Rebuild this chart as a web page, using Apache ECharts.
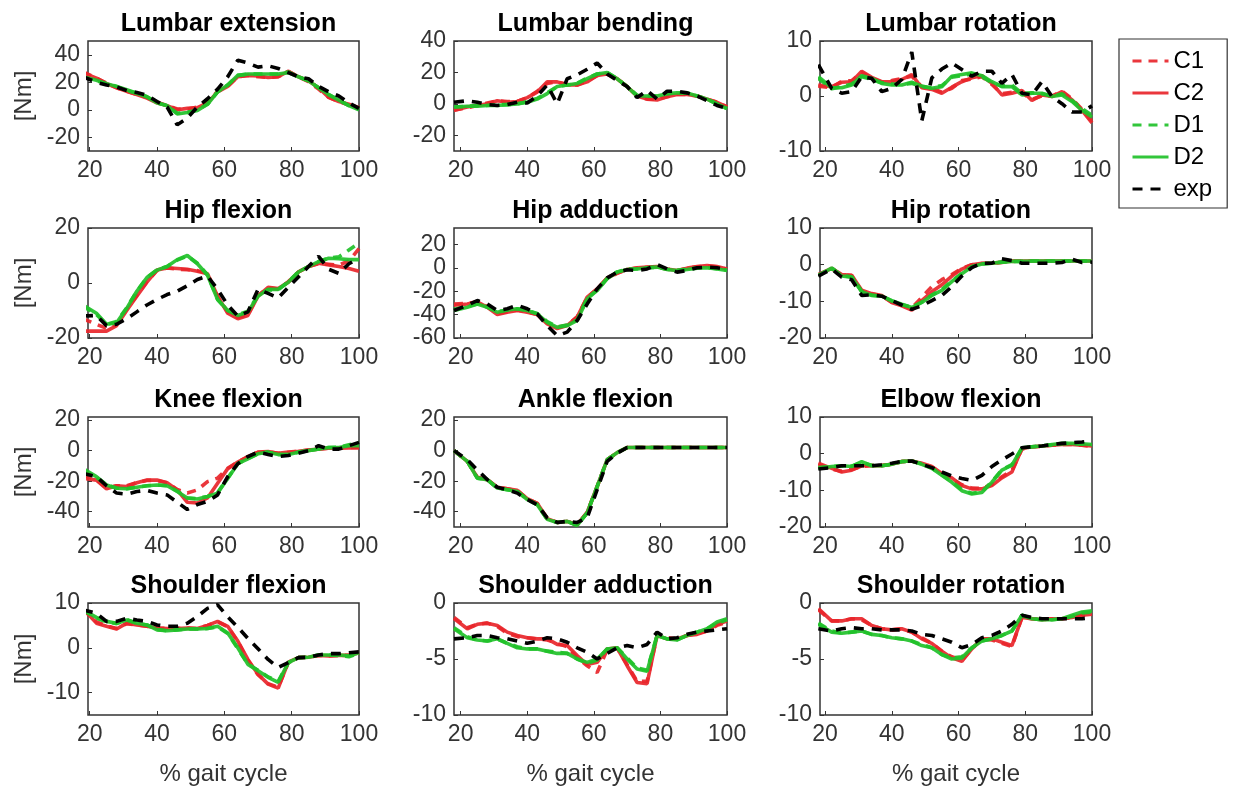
<!DOCTYPE html>
<html>
<head>
<meta charset="utf-8">
<script src="https://cdn.jsdelivr.net/npm/echarts@6/dist/echarts.min.js"></script>
<style>
  html, body { margin: 0; padding: 0; background: #fff; }
  #chart { width: 1233px; height: 787px; }
</style>
</head>
<body>
<div id="chart"></div>
<script>
// % gait cycle sample points
const gait = [18, 22, 25, 28, 31, 34, 37, 40, 43, 46, 49, 52, 55, 58, 61, 64, 67, 70, 73, 76, 79, 82, 85, 88, 91, 94, 97, 100];
const xTicks = [20, 40, 60, 80, 100];

// Lumbar extension
const lumExtC1 = [27.5, 23, 19.5, 16, 13.5, 11, 9, 5.5, 3, 0.5, 0.5, 2, 5, 13.5, 17, 24, 25, 24, 23.5, 24, 28, 24, 20.5, 15, 9, 6, 3.5, 1];
const lumExtC2 = [27, 23, 19, 16, 13.5, 11, 8.5, 5, 3, 0, 1, 1.5, 5, 13, 17, 24, 25, 24.5, 23.5, 24, 28, 24, 21, 16, 9, 6, 4, 1.5];
const lumExtD1 = [24, 21, 19, 17, 14, 12, 9.5, 5, 3, -2.5, -2, 0, 4, 13, 18, 25, 26, 26, 26, 26, 27.5, 24, 21, 16, 11, 7, 3, 0.5];
const lumExtD2 = [24, 21.5, 19, 17, 14.5, 12, 9.5, 5, 3, -3, -2, -0.5, 4, 13, 18, 25, 26, 26, 26, 26, 27, 24, 21, 16, 11, 7, 3, 0];
const lumExtExp = [24, 20, 18, 16.5, 14, 12.5, 10.5, 6, 2, -11, -6, 2, 8, 15, 24, 36, 34, 31, 32, 30, 27, 24, 22.5, 17, 13, 10, 5, 1];
const lumExtTicks = [-20, 0, 20, 40];

// Lumbar bending
const lumBenC1 = [-4, -2.5, -1, 0.5, 2, 1.5, 1.5, 4, 8, 13, 14, 12.5, 12, 14.5, 18, 19, 16, 11, 5, 3, 3, 4.5, 6, 6, 5, 3, 1, -2];
const lumBenC2 = [-4, -2, -1, 0, 2, 1, 1.5, 4, 7.5, 14, 14, 12, 12, 14, 18, 19, 16, 11, 5, 3, 2.5, 4.5, 6, 6, 5, 3, 1, -2];
const lumBenD1 = [-2, -1.5, -1, -1, -0.5, -0.5, 0, 1.5, 3.5, 7, 11, 12, 13, 16.5, 19, 20, 16, 11, 5.5, 5, 5, 6.5, 7, 7, 5, 3, 0, -3];
const lumBenD2 = [-2, -1.5, -1.5, -1, -1, -0.5, 0, 1, 3, 6.5, 11, 12, 13, 16, 19, 20, 16, 11, 5, 5, 5, 6.5, 7, 7, 5, 3, 0, -3];
const lumBenExp = [1, 2, 1, -0.5, -1, -0.5, 1, 0.5, 5, 12, 0, 16, 18.5, 22, 26, 19, 15, 11, 4, 8.5, 3, 8, 8, 7, 5, 2, -1, -3];
const lumBenTicks = [-20, 0, 20, 40];

// Lumbar rotation
const lumRotC1 = [1.8, 1.5, 2.7, 2.8, 4.3, 3.2, 2.5, 2.8, 3.2, 3.6, 1.7, 1.4, 0.7, 1.4, 2.8, 3.1, 3.5, 2.1, 0.4, 0.7, 0.5, -0.6, 0, 0, 0.9, -0.5, -2.4, -4.6];
const lumRotC2 = [2, 1.7, 2.5, 2.6, 4.5, 3.4, 2.6, 2.6, 3, 3.9, 1.5, 1.2, 0.5, 1.6, 2.6, 3.3, 3.7, 2.3, 0.2, 0.5, 1, -0.8, 0.2, -0.1, 0.8, -0.7, -2.6, -4.9];
const lumRotD1 = [3.2, 1.3, 1.7, 2.2, 3.5, 3, 2.4, 2.2, 2.1, 2.3, 1.7, 1.5, 1.9, 3.4, 3.7, 4, 3.5, 2.4, 1.8, 2, 0.5, 0.6, 0.4, 0, 0.4, -0.8, -2.3, -3.5];
const lumRotD2 = [3.5, 1.5, 1.5, 2, 3.7, 3.2, 2.3, 2, 2, 2.5, 1.8, 1.4, 1.7, 3.6, 3.9, 4.2, 3.7, 2.6, 1.7, 1.7, 0.2, 0.5, 0.5, -0.1, 0.2, -1, -2.6, -3.8];
const lumRotExp = [5.7, 1.4, 0.5, 0.8, 3.5, 3.2, 0.8, 1.4, 3, 8, -4.5, 3.3, 4.9, 6, 4.8, 3.6, 4.5, 4.5, 2.3, 3.9, 0.5, 0.2, 2.6, -0.1, -1.4, -2.9, -2.9, -1.8];
const lumRotTicks = [-10, 0, 10];

// Hip flexion
const hipFlxC1 = [-13, -15, -16.5, -15, -9.5, -4.5, 0.5, 4.5, 5.5, 5, 4.8, 4.5, 3.5, -5, -10.5, -12.5, -11.5, -4.5, -1.8, -2.2, 0.5, 4, 6, 7, 6.8, 6.5, 8, 12.5];
const hipFlxC2 = [-17.5, -17.5, -17.5, -15.5, -10, -4.8, 0.3, 4.7, 5.5, 5.3, 5, 4.3, 3.4, -4.8, -11, -13, -11.8, -4.8, -1.6, -2, 0.3, 4, 6, 7.2, 6.6, 6, 5.3, 4.3];
const hipFlxD1 = [-8.5, -11.5, -15, -14, -9, -3, 2, 4.8, 6, 8.3, 9.8, 7.2, 3, -6, -10, -11.5, -10.3, -4.5, -2.5, -2.5, 0.5, 4, 6, 7.8, 9, 9.5, 12, 14.5];
const hipFlxD2 = [-8, -11, -15, -14.5, -9.2, -3, 2, 4.7, 6, 8.5, 10, 7, 2.8, -6, -10, -11.8, -10.5, -4.8, -2.3, -2.3, 0.3, 4, 6, 7.8, 9, 8.8, 8.5, 8.5];
const hipFlxExp = [-12, -11.8, -15.5, -15, -13, -10.5, -8, -6, -4.2, -3, -1, 1.3, 2.5, -2.3, -8, -12, -10.5, -2.3, -3.8, -5.4, -1.6, 2.2, 6, 9.7, 5, 3.5, 7, 9];
const hipFlxTicks = [-20, 0, 20];

// Hip adduction
const hipAddC1 = [-31, -30.5, -29, -33, -39, -37.5, -36, -37.5, -40, -47, -51, -49, -42, -25.5, -18, -9, -4.8, -1.6, -0.2, 0.4, 0.8, -1.2, -2.5, -0.5, 0.8, 1.6, 0.8, -1.2];
const hipAddC2 = [-32, -31, -29, -33.7, -40, -38, -36.5, -38, -40, -48, -52, -49.4, -42, -25, -18, -8.6, -4.6, -1.4, 0, 0.6, 1, -1, -2.3, -0.3, 1, 2, 1, -1];
const hipAddD1 = [-35.5, -33, -31, -33.5, -37.5, -36, -35, -36.5, -39, -46, -50.5, -49, -44.5, -26, -19, -9, -3.5, -1.2, -0.8, 0, 0.5, -1.2, -2.2, -1.2, -0.2, 0.2, -0.8, -2];
const hipAddD2 = [-36.5, -33.7, -31, -33.7, -38, -36, -35, -36.5, -39.4, -46.6, -51, -49.4, -45, -26.6, -19.4, -9.4, -3.7, -1.4, -1, 0, 0.6, -1.4, -2.3, -1.4, -0.3, 0, -1, -2.3];
const hipAddExp = [-36.5, -32, -28, -31, -36.5, -35, -32, -35, -39.4, -49.4, -58, -55, -45, -31, -18, -8.6, -3.7, -1.7, -2.3, -1, 2.9, -1, -3.7, -2.3, 0, 0.6, 0, -1.4];
const hipAddTicks = [-60, -40, -20, 0, 20];

// Hip rotation
const hipRotC1 = [-2.8, -1.1, -2.8, -3, -7.2, -8, -8.5, -10.2, -11, -11.8, -8.9, -6, -4.1, -2.7, -1, 0, 0.3, 0.4, 0.6, 0.9, 1, 1, 1, 1, 1, 1, 1, 1];
const hipRotC2 = [-2.7, -1, -2.7, -2.9, -7, -7.9, -8.4, -10.3, -11.2, -12.4, -9.8, -7.4, -5.5, -3.1, -1.2, 0, 0.4, 0.4, 0.7, 1, 1, 1, 1, 1, 1, 1, 1, 1];
const hipRotD1 = [-2.9, -0.9, -3, -3.3, -7.3, -8.3, -8.6, -9.9, -10.9, -11.6, -10.2, -8.3, -6.8, -4.4, -2.4, -0.5, 0.2, 0.4, 0.7, 0.9, 0.9, 1, 1, 1, 1, 1, 1, 1];
const hipRotD2 = [-2.9, -0.9, -3.1, -3.4, -7.4, -8.4, -8.6, -9.8, -10.8, -11.7, -10.3, -8.4, -7, -4.6, -2.5, -0.6, 0.2, 0.4, 0.7, 0.9, 0.9, 1, 1, 1, 1, 1, 1, 1];
const hipRotExp = [-3.1, -1.2, -3.4, -4.1, -8.4, -8.2, -8.6, -9.8, -11, -12.2, -11.2, -9.8, -8.4, -6, -3.1, -0.8, 0.4, 0.4, 1.6, 1.1, 0.4, 0.4, 0.4, 0.4, 0.6, 1.5, 0.6, 0.7];
const hipRotTicks = [-20, -10, 0, 10];

// Knee flexion
const kneeC1 = [-16, -19, -24.5, -23, -23, -21, -19.5, -19.5, -21, -25.5, -27.8, -25.7, -20.3, -18, -11.5, -7.5, -4, -1.2, -0.8, -1.8, -1.2, -0.5, 0.3, 1, 1.6, 1.8, 2, 2.2];
const kneeC2 = [-18, -19.3, -25, -23, -23.5, -21, -19.3, -19.3, -21, -25.7, -33.8, -34.3, -31, -21.4, -11.8, -7.5, -3.9, -1, -0.6, -1.7, -1, -0.4, 0.4, 1, 1.5, 1.5, 1.7, 1.7];
const kneeD1 = [-13, -17.5, -22.5, -24.5, -25, -24, -23, -22.5, -23, -26.5, -31, -31.5, -30, -27.5, -18, -8.5, -5.2, -2, -1, -2.5, -2.5, -1, 0, 1, 2, 2.2, 3.8, 5.4];
const kneeD2 = [-11.8, -17, -22.5, -24.6, -25, -24, -23, -22.5, -23, -26.8, -31, -31.7, -30, -27.8, -18.2, -8.6, -5.4, -2.1, -1, -2.6, -2.6, -1, 0, 1, 2, 2, 3.2, 3.2];
const kneeExp = [-15, -17, -23, -27.8, -28.5, -26.8, -26, -27.8, -29, -33.8, -38.5, -35.3, -33.2, -29, -17, -8.6, -3.9, -1, -2.6, -3.9, -3.2, -1.7, 0, 3.2, 1, 1, 3.2, 5.4];
const kneeTicks = [-40, -20, 0, 20];

// Ankle flexion
const ankleC1 = [0, -7, -17.5, -19, -24, -25, -26, -31.5, -34.5, -44.5, -47, -46.3, -48.5, -40.5, -23.5, -6, -1.3, 2, 2, 2, 2, 2, 2, 2, 2, 2, 2, 2];
const ankleC2 = [0, -7, -17.5, -19, -24, -25, -26, -31.5, -34.5, -44.5, -47, -46.3, -48.5, -40.5, -23.5, -6, -1.3, 2, 2, 2, 2, 2, 2, 2, 2, 2, 2, 2];
const ankleD1 = [0, -7, -18, -19, -24.5, -25.6, -26.7, -32, -35.4, -45, -47, -46.3, -49, -40.8, -23.5, -6, -1.3, 2, 2, 2, 2, 2, 2, 2, 2, 2, 2, 2];
const ankleD2 = [0, -7, -18, -19, -24.5, -25.6, -26.7, -32, -35.4, -45, -47, -46.3, -49, -40.8, -23.5, -6, -1.3, 2, 2, 2, 2, 2, 2, 2, 2, 2, 2, 2];
const ankleExp = [0, -6, -12.6, -19, -24, -25.6, -27.8, -32, -35.4, -44, -47, -46.3, -47, -44, -25.6, -7, -1.7, 2, 2, 2, 2, 2, 2, 2, 2, 2, 2, 2];
const ankleTicks = [-40, -20, 0, 20];

// Elbow flexion
const elbowC1 = [-3, -4.2, -4.8, -4.3, -3.5, -3.2, -3.2, -2.9, -2.2, -2, -2.7, -3.6, -5.5, -6.8, -8.5, -9.4, -9.5, -8.4, -6.3, -4.6, 1.2, 1.8, 2, 2.3, 2.5, 2.5, 2.3, 2];
const elbowC2 = [-2.6, -4, -5, -4.5, -3.3, -3.3, -3.3, -2.9, -2.1, -2, -2.6, -3.5, -5.4, -6.6, -8.7, -9.6, -9.6, -8.7, -6.6, -5, 1.4, 1.9, 2.1, 2.3, 2.5, 2.5, 2.3, 2.1];
const elbowD1 = [-3.8, -3.5, -3.4, -3.4, -2.4, -3.2, -3.3, -2.9, -2.2, -2, -2.8, -3.9, -5.8, -7.6, -9.8, -10.8, -10.4, -7.6, -4.4, -3, 1.5, 1.9, 2.1, 2.4, 2.7, 2.8, 2.6, 2.4];
const elbowD2 = [-4, -3.5, -3.3, -3.5, -2.2, -3.3, -3.3, -2.9, -2.1, -2, -2.9, -4, -5.9, -7.8, -10.1, -11, -10.6, -7.8, -4.5, -3.1, 1.6, 1.9, 2.1, 2.5, 2.8, 2.8, 2.7, 2.5];
const elbowExp = [-4.2, -3.8, -3.3, -3.3, -3.3, -3.3, -3, -2.6, -2.1, -2, -2.9, -3.8, -5, -6.1, -6.8, -7.3, -5.9, -3.5, -1.7, -0.1, 1.6, 1.9, 2.1, 2.5, 2.8, 3, 3.2, 3.5];
const elbowTicks = [-20, -10, 0, 10];

// Shoulder flexion
const shFlxC1 = [8.6, 5.8, 4.9, 4.3, 5.4, 5.1, 4.8, 4.4, 4.3, 4.3, 4.4, 4.3, 5, 5.8, 4.7, 1.4, -2.8, -6, -8, -8.8, -3.3, -2.2, -2.1, -1.7, -1.8, -1.7, -1.7, -1.1];
const shFlxC2 = [8.8, 5.5, 4.8, 4.2, 5.5, 5.1, 4.8, 4.4, 4.3, 4.3, 4.4, 4.3, 5, 5.9, 4.8, 1.5, -2.6, -5.9, -8.1, -9, -3.2, -2.2, -2.1, -1.7, -1.8, -1.7, -1.7, -1.1];
const shFlxD1 = [8.4, 6.6, 5.8, 5.4, 6.3, 5.5, 5.1, 4.1, 3.8, 4, 4.2, 4.2, 4.3, 4.7, 3.2, -0.2, -3.6, -5, -6.5, -7.5, -3.3, -2.2, -2.1, -1.6, -1.6, -1.7, -2, -1.2];
const shFlxD2 = [8.5, 6.8, 5.9, 5.5, 6.2, 5.5, 5.1, 4, 3.8, 4, 4.2, 4.2, 4.3, 4.8, 3.3, 0, -3.7, -5.1, -6.6, -7.7, -3.3, -2.2, -2.1, -1.6, -1.6, -1.6, -1.8, -1.1];
const shFlxExp = [8.5, 7.7, 5.9, 5.9, 6.6, 6.2, 5.9, 5.1, 4.8, 4.8, 5.5, 7, 8.8, 9.6, 6.9, 4.6, 2.1, -0.2, -2.6, -4.4, -3.3, -2.2, -2.1, -1.6, -1.3, -1.3, -1.1, -0.9];
const shFlxTicks = [-10, 0, 10];

// Shoulder adduction
const shAddC1 = [-1.3, -2.2, -1.9, -1.8, -2.1, -2.7, -3, -3.1, -3.2, -3.3, -3.6, -3.9, -4.9, -5.6, -6.2, -4.2, -4, -5.5, -7, -7, -2.9, -3.1, -3.2, -2.9, -2.7, -2.5, -2, -1.7];
const shAddC2 = [-1.4, -2.3, -1.9, -1.8, -2, -2.6, -2.9, -3.1, -3.2, -3.2, -3.7, -3.8, -4.7, -5.5, -5.3, -4.1, -4, -5.6, -7.1, -7.2, -2.9, -3.2, -3.2, -2.9, -2.8, -2.5, -1.9, -1.6];
const shAddD1 = [-2.2, -3, -3.3, -3.4, -3.2, -3.6, -3.9, -4.1, -4.1, -4.3, -4.4, -4.5, -5, -5.4, -5.1, -4.1, -4, -4.9, -5.8, -6, -2.9, -3.2, -3.3, -2.9, -2.6, -2.3, -1.8, -1.5];
const shAddD2 = [-2.3, -3.1, -3.3, -3.4, -3.2, -3.6, -4, -4.1, -4.1, -4.3, -4.5, -4.5, -5, -5.3, -5, -4.1, -4, -5, -5.9, -6.1, -2.9, -3.2, -3.3, -2.9, -2.6, -2.3, -1.7, -1.4];
const shAddExp = [-3.2, -3.1, -2.9, -2.9, -3.1, -3.2, -3.4, -3.6, -3.4, -3.1, -3.2, -3.5, -4, -4.4, -5, -4.5, -4, -3.8, -4, -3.7, -2.6, -3.2, -3.1, -2.8, -2.6, -2.5, -2.4, -2.3];
const shAddTicks = [-10, -5, 0];

// Shoulder rotation
const shRotC1 = [-0.6, -1.6, -1.6, -1.4, -1.5, -2, -2.3, -2.4, -2.3, -2.6, -3.1, -3.6, -4.3, -4.8, -5.1, -4.1, -3.2, -3.3, -3.6, -3.9, -1.3, -1.4, -1.5, -1.4, -1.4, -1.3, -1.1, -1];
const shRotC2 = [-0.5, -1.6, -1.6, -1.4, -1.4, -2, -2.3, -2.4, -2.3, -2.6, -3.2, -3.6, -4.3, -4.9, -5.2, -4.1, -3.2, -3.2, -3.5, -3.8, -1.3, -1.4, -1.5, -1.4, -1.4, -1.3, -1.1, -1];
const shRotD1 = [-1.8, -2.5, -2.7, -2.6, -2.5, -2.8, -2.9, -3.1, -3.2, -3.4, -3.7, -4, -4.6, -4.9, -4.8, -4, -3.4, -3.2, -2.9, -2.5, -1.1, -1.4, -1.5, -1.5, -1.4, -1.2, -0.9, -0.8];
const shRotD2 = [-1.9, -2.6, -2.7, -2.6, -2.5, -2.8, -2.9, -3.1, -3.2, -3.4, -3.8, -4, -4.6, -5, -4.9, -4, -3.4, -3.2, -2.9, -2.5, -1.1, -1.4, -1.5, -1.5, -1.4, -1.1, -0.8, -0.7];
const shRotExp = [-2.3, -2.5, -2.3, -2.2, -2.3, -2.3, -2.4, -2.4, -2.4, -2.5, -2.8, -2.9, -3.2, -3.5, -4, -3.7, -3.1, -2.9, -2.5, -1.9, -1.1, -1.3, -1.4, -1.4, -1.4, -1.4, -1.4, -1.3];
const shRotTicks = [-10, -5, 0];

const seriesNames = ["C1", "C2", "D1", "D2", "exp"];

const panels = [
  { title: "Lumbar extension", min: -30, max: 50, ticks: lumExtTicks, lines: [lumExtC1, lumExtC2, lumExtD1, lumExtD2, lumExtExp] },
  { title: "Lumbar bending", min: -30, max: 40, ticks: lumBenTicks, lines: [lumBenC1, lumBenC2, lumBenD1, lumBenD2, lumBenExp] },
  { title: "Lumbar rotation", min: -10, max: 10, ticks: lumRotTicks, lines: [lumRotC1, lumRotC2, lumRotD1, lumRotD2, lumRotExp] },
  { title: "Hip flexion", min: -20, max: 20, ticks: hipFlxTicks, lines: [hipFlxC1, hipFlxC2, hipFlxD1, hipFlxD2, hipFlxExp] },
  { title: "Hip adduction", min: -60, max: 34, ticks: hipAddTicks, lines: [hipAddC1, hipAddC2, hipAddD1, hipAddD2, hipAddExp] },
  { title: "Hip rotation", min: -20, max: 10, ticks: hipRotTicks, lines: [hipRotC1, hipRotC2, hipRotD1, hipRotD2, hipRotExp] },
  { title: "Knee flexion", min: -50, max: 22, ticks: kneeTicks, lines: [kneeC1, kneeC2, kneeD1, kneeD2, kneeExp] },
  { title: "Ankle flexion", min: -50, max: 22, ticks: ankleTicks, lines: [ankleC1, ankleC2, ankleD1, ankleD2, ankleExp] },
  { title: "Elbow flexion", min: -20, max: 10, ticks: elbowTicks, lines: [elbowC1, elbowC2, elbowD1, elbowD2, elbowExp] },
  { title: "Shoulder flexion", min: -15, max: 10, ticks: shFlxTicks, lines: [shFlxC1, shFlxC2, shFlxD1, shFlxD2, shFlxExp] },
  { title: "Shoulder adduction", min: -10, max: 0, ticks: shAddTicks, lines: [shAddC1, shAddC2, shAddD1, shAddD2, shAddExp] },
  { title: "Shoulder rotation", min: -10, max: 0, ticks: shRotTicks, lines: [shRotC1, shRotC2, shRotD1, shRotD2, shRotExp] },
];

// layout of the 4x3 panel boxes (px)
const colLeft = [88, 454, 820];
const colWidth = [271, 273, 272];
const colXMin = [19.5, 18, 18.5];
const rowTop = [41, 228, 417, 603];
const rowHeight = [110, 110, 110, 112];

const RED = "#e8262b";
const GREEN = "#21c12a";
const lineLook = [
  { color: RED, type: [9, 7] },
  { color: RED, type: "solid" },
  { color: GREEN, type: [9, 7] },
  { color: GREEN, type: "solid" },
  { color: "#000000", type: [10, 8] },
];

const font = "'Liberation Sans', Arial, Helvetica, sans-serif";
const axisColor = "#333333";

const grids = [], xAxes = [], yAxes = [], titles = [], series = [];

panels.forEach((p, i) => {
  const row = Math.floor(i / 3), col = i % 3;
  grids.push({
    left: colLeft[col], top: rowTop[row], width: colWidth[col], height: rowHeight[row],
    show: true, borderColor: axisColor, borderWidth: 1.5, backgroundColor: "#fff",
  });
  titles.push({
    text: p.title,
    left: colLeft[col] + colWidth[col] / 2,
    top: rowTop[row] - 34,
    textAlign: "center",
    textStyle: { fontFamily: font, fontSize: 25, fontWeight: "bold", color: "#000" },
  });
  xAxes.push({
    type: "value", gridIndex: i, min: colXMin[col], max: 100,
    name: row === 3 ? "% gait cycle" : "",
    nameLocation: "middle", nameGap: 47,
    nameTextStyle: { fontFamily: font, fontSize: 24, color: axisColor },
    axisLine: { show: false, onZero: false },
    axisTick: { show: true, inside: true, length: 4, customValues: xTicks, lineStyle: { color: axisColor } },
    axisLabel: { customValues: xTicks, fontFamily: font, fontSize: 23, color: axisColor, margin: 8 },
    splitLine: { show: false },
  });
  yAxes.push({
    type: "value", gridIndex: i, min: p.min, max: p.max,
    name: col === 0 ? "[Nm]" : "",
    nameLocation: "middle", nameGap: 52, nameRotate: 90,
    nameTextStyle: { fontFamily: font, fontSize: 24, color: axisColor },
    axisLine: { show: false, onZero: false },
    axisTick: { show: true, inside: true, length: 4, customValues: p.ticks, lineStyle: { color: axisColor } },
    axisLabel: { customValues: p.ticks, fontFamily: font, fontSize: 23, color: axisColor, margin: 8 },
    splitLine: { show: false },
  });
  p.lines.forEach((vals, k) => {
    series.push({
      name: seriesNames[k],
      type: "line",
      xAxisIndex: i, yAxisIndex: i,
      symbol: "none",
      smooth: false,
      clip: true,
      data: gait.map((g, j) => [g, vals[j]]),
      lineStyle: { width: 3.6, color: lineLook[k].color, type: lineLook[k].type, opacity: k < 4 ? 0.92 : 1 },
      itemStyle: { color: lineLook[k].color },
      z: 2 + k,
    });
  });
});

const chart = echarts.init(document.getElementById("chart"), null, { renderer: "canvas" });
chart.setOption({
  animation: false,
  backgroundColor: "#ffffff",
  title: titles,
  grid: grids,
  xAxis: xAxes,
  yAxis: yAxes,
  legend: {
    data: seriesNames,
    orient: "vertical",
    left: 1119, top: 39,
    itemWidth: 36, itemHeight: 14, itemGap: 6,
    padding: [9, 15, 6, 12],
    borderColor: axisColor, borderWidth: 1.2,
    backgroundColor: "#fff",
    itemStyle: { opacity: 0 },
    lineStyle: { width: 3 },
    textStyle: { fontFamily: font, fontSize: 24, color: "#000", lineHeight: 26 },
  },
  series: series,
});
</script>
</body>
</html>
